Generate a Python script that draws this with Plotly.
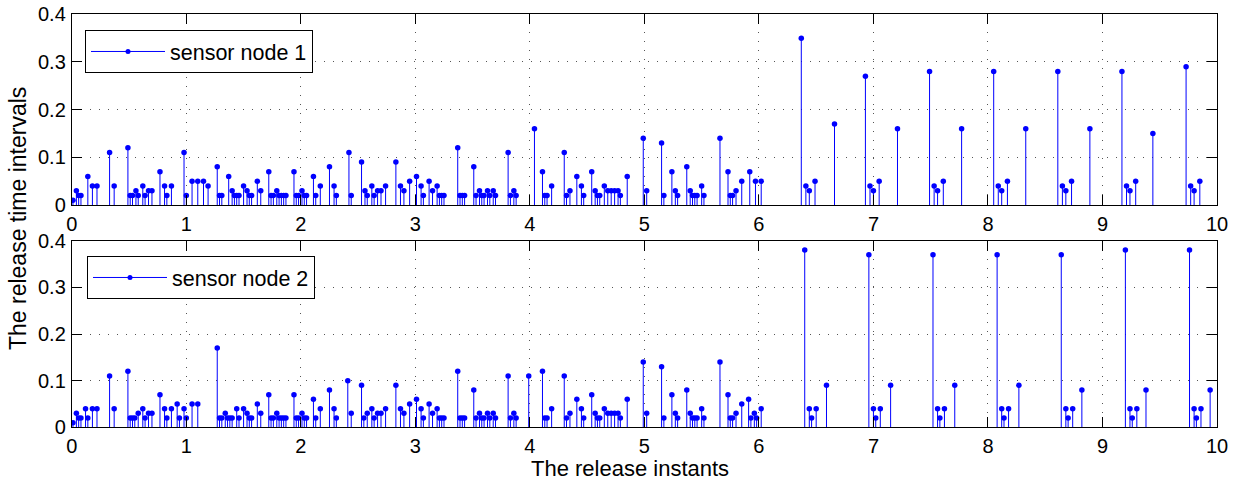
import plotly.graph_objects as go

# ---------------- data ----------------
node1_t = [0.01, 0.04, 0.06, 0.08, 0.14, 0.18, 0.22, 0.33, 0.37, 0.49,
           0.51, 0.53, 0.56, 0.58, 0.62, 0.64, 0.67, 0.70, 0.77, 0.81,
           0.83, 0.87, 0.98, 1.00, 1.05, 1.10, 1.15, 1.19, 1.27, 1.29,
           1.31, 1.37, 1.40, 1.42, 1.44, 1.46, 1.50, 1.53, 1.55, 1.57,
           1.62, 1.65, 1.72, 1.74, 1.76, 1.79, 1.81, 1.83, 1.85, 1.87,
           1.94, 1.96, 1.98, 2.01, 2.03, 2.05, 2.11, 2.13, 2.17, 2.25,
           2.29, 2.31, 2.42, 2.44, 2.53, 2.56, 2.58, 2.62, 2.64, 2.67,
           2.70, 2.74, 2.83, 2.87, 2.90, 2.95, 3.01, 3.05, 3.07, 3.12,
           3.15, 3.19, 3.21, 3.23, 3.25, 3.37, 3.39, 3.41, 3.43, 3.51,
           3.53, 3.56, 3.58, 3.60, 3.63, 3.65, 3.68, 3.70, 3.81, 3.83,
           3.86, 3.88, 4.04, 4.11, 4.13, 4.15, 4.19, 4.30, 4.32, 4.35,
           4.41, 4.45, 4.47, 4.54, 4.57, 4.59, 4.61, 4.65, 4.68, 4.71,
           4.74, 4.77, 4.79, 4.85, 4.99, 5.02, 5.15, 5.17, 5.24, 5.27,
           5.29, 5.37, 5.40, 5.42, 5.44, 5.46, 5.50, 5.52, 5.66, 5.73,
           5.75, 5.77, 5.80, 5.85, 5.92, 5.97, 6.02, 6.37, 6.41, 6.44,
           6.49, 6.66, 6.93, 6.97, 7.00, 7.05, 7.21, 7.49, 7.53, 7.56,
           7.61, 7.77, 8.05, 8.09, 8.12, 8.17, 8.33, 8.61, 8.65, 8.68,
           8.73, 8.89, 9.17, 9.21, 9.24, 9.29, 9.44, 9.73, 9.77, 9.80,
           9.85]
node1_dt = [0.01, 0.03, 0.02, 0.02, 0.06, 0.04, 0.04, 0.11, 0.04, 0.12,
            0.02, 0.02, 0.03, 0.02, 0.04, 0.02, 0.03, 0.03, 0.07, 0.04,
            0.02, 0.04, 0.11, 0.02, 0.05, 0.05, 0.05, 0.04, 0.08, 0.02,
            0.02, 0.06, 0.03, 0.02, 0.02, 0.02, 0.04, 0.03, 0.02, 0.02,
            0.05, 0.03, 0.07, 0.02, 0.02, 0.03, 0.02, 0.02, 0.02, 0.02,
            0.07, 0.02, 0.02, 0.03, 0.02, 0.02, 0.06, 0.02, 0.04, 0.08,
            0.04, 0.02, 0.11, 0.02, 0.09, 0.03, 0.02, 0.04, 0.02, 0.03,
            0.03, 0.04, 0.09, 0.04, 0.03, 0.05, 0.06, 0.04, 0.02, 0.05,
            0.03, 0.04, 0.02, 0.02, 0.02, 0.12, 0.02, 0.02, 0.02, 0.08,
            0.02, 0.03, 0.02, 0.02, 0.03, 0.02, 0.03, 0.02, 0.11, 0.02,
            0.03, 0.02, 0.16, 0.07, 0.02, 0.02, 0.04, 0.11, 0.02, 0.03,
            0.06, 0.04, 0.02, 0.07, 0.03, 0.02, 0.02, 0.04, 0.03, 0.03,
            0.03, 0.03, 0.02, 0.06, 0.14, 0.03, 0.13, 0.02, 0.07, 0.03,
            0.02, 0.08, 0.03, 0.02, 0.02, 0.02, 0.04, 0.02, 0.14, 0.07,
            0.02, 0.02, 0.03, 0.05, 0.07, 0.05, 0.05, 0.35, 0.04, 0.03,
            0.05, 0.17, 0.27, 0.04, 0.03, 0.05, 0.16, 0.28, 0.04, 0.03,
            0.05, 0.16, 0.28, 0.04, 0.03, 0.05, 0.16, 0.28, 0.04, 0.03,
            0.05, 0.16, 0.28, 0.04, 0.03, 0.05, 0.15, 0.29, 0.04, 0.03,
            0.05]

node2_t = [0.01, 0.04, 0.06, 0.08, 0.12, 0.14, 0.18, 0.22, 0.33, 0.37,
           0.49, 0.51, 0.53, 0.55, 0.58, 0.62, 0.64, 0.67, 0.70, 0.77,
           0.81, 0.83, 0.87, 0.92, 0.94, 0.98, 1.00, 1.05, 1.10, 1.27,
           1.29, 1.31, 1.34, 1.36, 1.38, 1.40, 1.44, 1.46, 1.50, 1.53,
           1.55, 1.57, 1.62, 1.65, 1.72, 1.74, 1.76, 1.79, 1.81, 1.83,
           1.85, 1.87, 1.94, 1.96, 1.98, 2.01, 2.03, 2.05, 2.11, 2.13,
           2.17, 2.25, 2.29, 2.31, 2.41, 2.44, 2.53, 2.55, 2.58, 2.62,
           2.64, 2.67, 2.70, 2.74, 2.83, 2.87, 2.90, 2.95, 3.01, 3.05,
           3.07, 3.12, 3.15, 3.19, 3.21, 3.23, 3.25, 3.37, 3.39, 3.41,
           3.43, 3.51, 3.53, 3.56, 3.58, 3.60, 3.63, 3.65, 3.68, 3.70,
           3.81, 3.83, 3.86, 3.88, 3.99, 4.11, 4.13, 4.15, 4.19, 4.30,
           4.32, 4.35, 4.41, 4.45, 4.47, 4.54, 4.57, 4.59, 4.61, 4.65,
           4.68, 4.71, 4.74, 4.77, 4.79, 4.85, 4.99, 5.02, 5.15, 5.17,
           5.24, 5.27, 5.29, 5.37, 5.40, 5.42, 5.44, 5.46, 5.50, 5.52,
           5.66, 5.73, 5.75, 5.77, 5.80, 5.85, 5.91, 5.93, 5.96, 5.98,
           6.02, 6.40, 6.44, 6.46, 6.50, 6.59, 6.96, 7.00, 7.02, 7.06,
           7.15, 7.52, 7.56, 7.58, 7.62, 7.71, 8.08, 8.12, 8.14, 8.18,
           8.27, 8.64, 8.68, 8.70, 8.74, 8.82, 9.20, 9.24, 9.26, 9.30,
           9.38, 9.76, 9.80, 9.82, 9.86, 9.94]
node2_dt = [0.01, 0.03, 0.02, 0.02, 0.04, 0.02, 0.04, 0.04, 0.11, 0.04,
            0.12, 0.02, 0.02, 0.02, 0.03, 0.04, 0.02, 0.03, 0.03, 0.07,
            0.04, 0.02, 0.04, 0.05, 0.02, 0.04, 0.02, 0.05, 0.05, 0.17,
            0.02, 0.02, 0.03, 0.02, 0.02, 0.02, 0.04, 0.02, 0.04, 0.03,
            0.02, 0.02, 0.05, 0.03, 0.07, 0.02, 0.02, 0.03, 0.02, 0.02,
            0.02, 0.02, 0.07, 0.02, 0.02, 0.03, 0.02, 0.02, 0.06, 0.02,
            0.04, 0.08, 0.04, 0.02, 0.10, 0.03, 0.09, 0.02, 0.03, 0.04,
            0.02, 0.03, 0.03, 0.04, 0.09, 0.04, 0.03, 0.05, 0.06, 0.04,
            0.02, 0.05, 0.03, 0.04, 0.02, 0.02, 0.02, 0.12, 0.02, 0.02,
            0.02, 0.08, 0.02, 0.03, 0.02, 0.02, 0.03, 0.02, 0.03, 0.02,
            0.11, 0.02, 0.03, 0.02, 0.11, 0.12, 0.02, 0.02, 0.04, 0.11,
            0.02, 0.03, 0.06, 0.04, 0.02, 0.07, 0.03, 0.02, 0.02, 0.04,
            0.03, 0.03, 0.03, 0.03, 0.02, 0.06, 0.14, 0.03, 0.13, 0.02,
            0.07, 0.03, 0.02, 0.08, 0.03, 0.02, 0.02, 0.02, 0.04, 0.02,
            0.14, 0.07, 0.02, 0.02, 0.03, 0.05, 0.06, 0.02, 0.03, 0.02,
            0.04, 0.38, 0.04, 0.02, 0.04, 0.09, 0.37, 0.04, 0.02, 0.04,
            0.09, 0.37, 0.04, 0.02, 0.04, 0.09, 0.37, 0.04, 0.02, 0.04,
            0.09, 0.37, 0.04, 0.02, 0.04, 0.08, 0.38, 0.04, 0.02, 0.04,
            0.08, 0.38, 0.04, 0.02, 0.04, 0.08]

x_ticks = list(range(0, 11))
y_ticks = [0, 0.1, 0.2, 0.3, 0.4]
y_tick_labels = ["0", "0.1", "0.2", "0.3", "0.4"]
series_names = ["sensor node 1", "sensor node 2"]
x_title = "The release instants"
y_title = "The release time intervals"

# ---------------- styling ----------------
BLUE = "rgb(0,0,255)"
FONT = "Liberation Sans, Arial, Helvetica, sans-serif"
FS_TICK = 20
FS_LEG = 21.5
FS_XT = 22
FS_YT = 23
W, H = 1248, 482


def stem_xy(t, v):
    xs, ys = [], []
    for a, b in zip(t, v):
        xs += [a, a, None]
        ys += [0, b, None]
    return xs, ys


fig = go.Figure()
panels = [
    (node1_t, node1_dt, "x", "y", "legend", series_names[0]),
    (node2_t, node2_dt, "x2", "y2", "legend2", series_names[1]),
]
for t, v, xa, ya, lg, name in panels:
    sx, sy = stem_xy(t, v)
    fig.add_trace(go.Scatter(x=sx, y=sy, mode="lines", xaxis=xa, yaxis=ya,
                             line=dict(color=BLUE, width=1),
                             showlegend=False, hoverinfo="skip"))
    fig.add_trace(go.Scatter(x=t, y=v, mode="markers", xaxis=xa, yaxis=ya,
                             marker=dict(color=BLUE, size=5.5),
                             showlegend=False))
    fig.add_trace(go.Scatter(x=[None], y=[None], mode="lines+markers",
                             xaxis=xa, yaxis=ya, name=name, legend=lg,
                             line=dict(color=BLUE, width=1),
                             marker=dict(color=BLUE, size=5)))

xdom = [71.8 / W, 1217.0 / W]
ydom_top = [1 - 205.0 / H, 1 - 14.3 / H]
ydom_bot = [1 - 427.3 / H, 1 - 240.7 / H]

axis_common = dict(showline=True, linecolor="black", linewidth=1,
                   mirror="ticks", ticks="inside", ticklen=10,
                   tickcolor="black", showgrid=True,
                   gridcolor="#555555", griddash="1px,8px",
                   gridwidth=1, zeroline=False, automargin=False,
                   tickfont=dict(family=FONT, size=FS_TICK, color="black"))

fig.update_layout(
    width=W, height=H,
    margin=dict(l=0, r=0, t=0, b=0),
    paper_bgcolor="white", plot_bgcolor="white",
    font=dict(family=FONT, size=FS_TICK, color="black"),
    xaxis=dict(domain=xdom, range=[0, 10], anchor="y",
               tickvals=x_ticks, ticklabelstandoff=1, **axis_common),
    yaxis=dict(domain=ydom_top, range=[0, 0.4], anchor="x",
               tickvals=y_ticks, ticktext=y_tick_labels,
               ticklabelstandoff=1, **axis_common),
    xaxis2=dict(domain=xdom, range=[0, 10], anchor="y2",
                tickvals=x_ticks, ticklabelstandoff=1, **axis_common),
    yaxis2=dict(domain=ydom_bot, range=[0, 0.4], anchor="x2",
                tickvals=y_ticks, ticktext=y_tick_labels,
                ticklabelstandoff=1, **axis_common),
    legend=dict(x=85 / W, y=1 - 30 / H, xanchor="left", yanchor="top",
                bgcolor="white", bordercolor="black", borderwidth=1,
                font=dict(family=FONT, size=FS_LEG), itemwidth=74,
                tracegroupgap=0),
    legend2=dict(x=87 / W, y=1 - 256 / H, xanchor="left", yanchor="top",
                 bgcolor="white", bordercolor="black", borderwidth=1,
                 font=dict(family=FONT, size=FS_LEG), itemwidth=74,
                 tracegroupgap=0),
    annotations=[
        dict(text=x_title, xref="paper", yref="paper", x=630 / W,
             y=0, showarrow=False, xanchor="center", borderpad=0,
             yanchor="bottom", font=dict(family=FONT, size=FS_XT)),
        dict(text=y_title, xref="paper", yref="paper", x=18 / W,
             y=1 - 219 / H, showarrow=False, textangle=-90,
             xanchor="center", yanchor="middle",
             font=dict(family=FONT, size=FS_YT)),
    ],
)

fig.write_html(
    "out.html",
    config={"displayModeBar": False},
    post_script="document.body.style.margin='0';"
                "document.body.style.overflow='hidden';",
)
